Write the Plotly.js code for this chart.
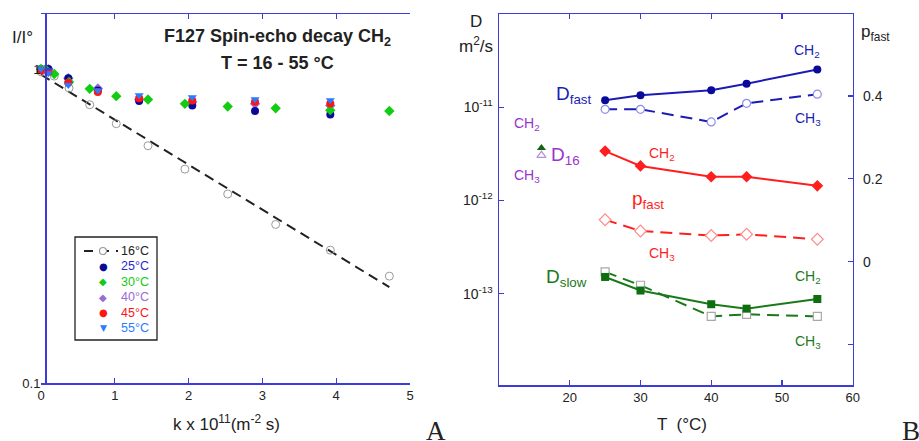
<!DOCTYPE html>
<html>
<head>
<meta charset="utf-8">
<script src="https://cdn.plot.ly/plotly-3.0.1.min.js"></script>
<style>
  html, body { margin: 0; padding: 0; background: #fff; }
  #chart { width: 919px; height: 441px; }
</style>
</head>
<body>
<div id="chart"></div>
<script>
// ---------- Panel A: spin-echo decay, I/I° vs k ----------
const k16 = [0, 0.18, 0.38, 0.66, 1.02, 1.45, 1.95, 2.53, 3.18, 3.92, 4.72];
const I16 = [0.98, 0.95, 0.87, 0.77, 0.67, 0.57, 0.48, 0.40, 0.32, 0.265, 0.219];
const kFit16 = [0, 4.72];
const IFit16 = [0.96, 0.202];

const k30 = [0, 0.06, 0.18, 0.38, 0.66, 1.02, 1.45, 1.95, 2.53, 3.18, 3.92, 4.72];
const I30 = [1.0, 1.0, 0.965, 0.91, 0.865, 0.82, 0.80, 0.775, 0.76, 0.75, 0.74, 0.735];

const kHot = [0, 0.1, 0.37, 0.77, 1.33, 2.05, 2.9, 3.92];
const I25 = [1.0, 1.0, 0.935, 0.855, 0.791, 0.765, 0.736, 0.717];
const I40 = [1.0, 1.0, 0.935, 0.868, 0.80, 0.785, 0.775, 0.765];
const I45 = [0.99, 0.98, 0.905, 0.846, 0.808, 0.794, 0.787, 0.777];
const I55 = [1.0, 0.97, 0.89, 0.855, 0.826, 0.814, 0.802, 0.796];

const kTicks = [0, 1, 2, 3, 4, 5];
const ILabelTicks = [0.1, 1];
const IMinorTicks = [0.2, 0.3, 0.4, 0.5, 0.6, 0.7, 0.8, 0.9, 1];

// legend rows for panel A
const legendLabels = ['16°C', '25°C', '30°C', '40°C', '45°C', '55°C'];
const legendGlyphs = ['', '●', '◆', '◆', '●', '▼'];

// ---------- Panel B: diffusion coefficients and p_fast vs T ----------
const T = [25, 30, 40, 45, 55];
const DfastCH2 = [1.19e-11, 1.34e-11, 1.52e-11, 1.79e-11, 2.54e-11];
const DfastCH3 = [9.5e-12, 9.5e-12, 6.95e-12, 1.10e-11, 1.38e-11];
const pfastCH2 = [0.267, 0.231, 0.205, 0.205, 0.183];
const pfastCH3 = [0.101, 0.074, 0.063, 0.066, 0.054];
const DslowCH2 = [1.51e-13, 1.08e-13, 7.7e-14, 6.9e-14, 8.75e-14];
const DslowCH3 = [1.71e-13, 1.23e-13, 5.7e-14, 6.0e-14, 5.7e-14];
const T16 = [16];
const D16CH2 = [3.66e-12];
const D16CH3 = [3.05e-12];

const TTicks = [20, 30, 40, 50, 60];
const DTicks = [1e-13, 1e-12, 1e-11];
const DTickText = ['10<sup>-13</sup>', '10<sup>-12</sup>', '10<sup>-11</sup>'];
const pTicks = [-0.2, 0, 0.2, 0.4];
const pTickText = ['', '0', '0.2', '0.4'];

// ---------- styling ----------
const W = 919, H = 441;
const FONT = 'Liberation Sans, Arial, Helvetica, sans-serif';
const SERIF = 'Liberation Serif, Times New Roman, serif';
const FRAME = '#3c3cd8';
const INK = '#222222';
const C25 = '#0a0a96', C30 = '#12cc12', C40 = '#9a6bd6', C45 = '#ff1414', C55 = '#2a7bff';
const LEG_TEXT = ['#222222', '#2a2ad0', C30, C40, C45, C55];
const LEG_GLYPH = ['#222222', C25, C30, C40, C45, C55];
const BLUE = '#1c1cb4', PURPLE = '#9933cc', RED = '#ff1e1e', GREEN = '#1a7a1a';

const px = (x) => x / W;
const py = (y) => 1 - y / H;

function note(text, x, y, size, color, extra) {
  return Object.assign({
    text: text, xref: 'paper', yref: 'paper', x: px(x), y: py(y),
    xanchor: 'center', yanchor: 'middle', showarrow: false,
    font: { family: FONT, size: size, color: color }
  }, extra || {});
}

const dot = (sym, color, size, lineColor) => ({
  symbol: sym, size: size, color: color,
  line: { color: lineColor || color, width: lineColor ? 1.2 : 0 }
});

const traces = [
  // Panel A
  { x: kFit16, y: IFit16, xaxis: 'x', yaxis: 'y', mode: 'lines',
    line: { color: INK, width: 2, dash: '10px,6px' }, cliponaxis: false, hoverinfo: 'skip' },
  { x: k16, y: I16, xaxis: 'x', yaxis: 'y', mode: 'markers',
    marker: dot('circle-open', '#9a9a9a', 8), cliponaxis: false },
  { x: kHot, y: I40, xaxis: 'x', yaxis: 'y', mode: 'markers', marker: dot('diamond', C40, 8), cliponaxis: false },
  { x: kHot, y: I25, xaxis: 'x', yaxis: 'y', mode: 'markers', marker: dot('circle', C25, 8), cliponaxis: false },
  { x: k30, y: I30, xaxis: 'x', yaxis: 'y', mode: 'markers', marker: dot('diamond', C30, 8), cliponaxis: false },
  { x: kHot, y: I45, xaxis: 'x', yaxis: 'y', mode: 'markers', marker: dot('circle', C45, 8), cliponaxis: false },
  { x: kHot, y: I55, xaxis: 'x', yaxis: 'y', mode: 'markers', marker: dot('triangle-down', C55, 8), cliponaxis: false },

  // Panel B
  { x: T, y: DfastCH2, xaxis: 'x2', yaxis: 'y2', mode: 'lines+markers',
    line: { color: BLUE, width: 2 }, marker: dot('circle', '#0a0a9a', 8) },
  { x: T, y: DfastCH3, xaxis: 'x2', yaxis: 'y2', mode: 'lines+markers',
    line: { color: BLUE, width: 2, dash: '12px,7px' }, marker: dot('circle', '#ffffff', 8, '#8e8eea') },
  { x: T, y: DslowCH3, xaxis: 'x2', yaxis: 'y2', mode: 'lines+markers',
    line: { color: GREEN, width: 2, dash: '12px,7px' }, marker: dot('square', '#ffffff', 8, '#a8a8a8') },
  { x: T, y: DslowCH2, xaxis: 'x2', yaxis: 'y2', mode: 'lines+markers',
    line: { color: GREEN, width: 2 }, marker: dot('square', '#0f6e0f', 8) },
  { x: T16, y: D16CH3, xaxis: 'x2', yaxis: 'y2', mode: 'markers',
    marker: dot('triangle-up', '#ffffff', 8, '#b58ee0') },
  { x: T16, y: D16CH2, xaxis: 'x2', yaxis: 'y2', mode: 'markers',
    marker: dot('triangle-up', '#146414', 8) },
  { x: T, y: pfastCH2, xaxis: 'x2', yaxis: 'y3', mode: 'lines+markers',
    line: { color: RED, width: 2 }, marker: dot('diamond', RED, 9) },
  { x: T, y: pfastCH3, xaxis: 'x2', yaxis: 'y3', mode: 'lines+markers',
    line: { color: RED, width: 2, dash: '12px,7px' }, marker: dot('diamond', '#ffffff', 9, '#ff8c8c') }
];

const tickFont = { family: FONT, size: 13, color: INK };
const axisBase = {
  showline: true, linecolor: FRAME, linewidth: 1.5,
  ticks: 'inside', ticklen: 5, tickcolor: FRAME, tickwidth: 1.2,
  showgrid: false, zeroline: false, tickfont: tickFont, fixedrange: true
};

// legend box for panel A, laid out row by row
const LEG_BOX = { x0: 75, y0: 237, x1: 157, y1: 340 };
const LEG_ROW0 = 251, LEG_STEP = 15.4, LEG_SYM_X = 103, LEG_TEXT_X = 151;
const legendShapes = [
  { type: 'rect', xref: 'paper', yref: 'paper',
    x0: px(LEG_BOX.x0), x1: px(LEG_BOX.x1), y0: py(LEG_BOX.y1), y1: py(LEG_BOX.y0),
    line: { color: '#222222', width: 1.3 }, fillcolor: '#ffffff', layer: 'above' },
  // 16 °C key: dashed fit line with an open circle
  { type: 'line', xref: 'paper', yref: 'paper',
    x0: px(84), x1: px(118), y0: py(LEG_ROW0), y1: py(LEG_ROW0),
    line: { color: INK, width: 2, dash: '9px,7px' }, layer: 'above' },
  { type: 'circle', xref: 'paper', yref: 'paper',
    x0: px(LEG_SYM_X - 3.5), x1: px(LEG_SYM_X + 3.5), y0: py(LEG_ROW0 + 3.5), y1: py(LEG_ROW0 - 3.5),
    line: { color: '#9a9a9a', width: 1.2 }, fillcolor: '#ffffff', layer: 'above' }
];
const legendNotes = [];
legendLabels.forEach((lab, i) => {
  const y = LEG_ROW0 + i * LEG_STEP;
  legendNotes.push(note(lab, LEG_TEXT_X, y, 12.5, LEG_TEXT[i], { xanchor: 'right' }));
  if (legendGlyphs[i]) {
    const gs = legendGlyphs[i] === '▼' ? 9 : 10;
    legendNotes.push(note(legendGlyphs[i], LEG_SYM_X, y, gs, LEG_GLYPH[i],
      { font: { family: 'DejaVu Sans, sans-serif', size: gs, color: LEG_GLYPH[i] } }));
  }
});

const layout = {
  width: W, height: H,
  margin: { l: 0, r: 0, t: 0, b: 0 },
  paper_bgcolor: '#ffffff', plot_bgcolor: '#ffffff',
  font: { family: FONT, color: INK },
  showlegend: false,
  xaxis: Object.assign({}, axisBase, {
    domain: [px(41), px(410)], range: [0, 5], anchor: 'y',
    tickvals: kTicks, mirror: 'ticks'
  }),
  yaxis: Object.assign({}, axisBase, {
    domain: [py(383), py(14)], type: 'log', range: [-1, 0.1755],
    anchor: 'free', position: px(45),
    tickvals: ILabelTicks, ticktext: ['0.1', '1'], ticklabelstandoff: 2
  }),
  yaxis4: Object.assign({}, axisBase, {
    domain: [py(383), py(14)], type: 'log', range: [-1, 0.1755],
    overlaying: 'y', side: 'right', anchor: 'x',
    tickvals: IMinorTicks, showticklabels: false, ticklen: 4
  }),
  xaxis2: Object.assign({}, axisBase, {
    domain: [px(499), px(852.7)], range: [10, 60], anchor: 'y2',
    tickvals: TTicks, mirror: 'ticks'
  }),
  yaxis2: Object.assign({}, axisBase, {
    domain: [py(385), py(14)], type: 'log', range: [-13.98, -10.0], anchor: 'x2',
    tickvals: DTicks, ticktext: DTickText, tickfont: { family: FONT, size: 14, color: INK },
    ticklabelstandoff: 2
  }),
  yaxis3: Object.assign({}, axisBase, {
    domain: [py(385), py(14)], range: [-0.298, 0.598],
    overlaying: 'y2', side: 'right', anchor: 'x2',
    tickvals: pTicks, ticktext: pTickText, tickfont: { family: FONT, size: 14, color: INK },
    ticklabelstandoff: 6
  }),
  shapes: legendShapes,
  annotations: [
    // panel A texts
    note('I/I°', 22, 37, 17, INK),
    note('<b>F127 Spin-echo decay CH<sub>2</sub></b>', 277, 38, 18, INK),
    note('<b>T = 16 - 55 °C</b>', 277, 63, 18, INK),
    note('k x 10<sup>11</sup>(m<sup>-2</sup> s)', 226, 423, 17, INK),
    note('A', 436, 431, 27, INK, { font: { family: SERIF, size: 27, color: INK } }),
    // panel B texts
    note('D', 476, 22, 17, INK),
    note('m<sup>2</sup>/s', 476, 45, 17, INK),
    note('p<sub>fast</sub>', 875, 33, 17, INK),
    note('T  (°C)', 682, 424, 17, INK),
    note('B', 911, 431, 27, INK, { font: { family: SERIF, size: 27, color: INK } }),
    note('CH<sub>2</sub>', 807, 51, 14, BLUE),
    note('CH<sub>3</sub>', 808, 119, 14, BLUE),
    note('D<sub>fast</sub>', 573, 95, 19, BLUE),
    note('CH<sub>2</sub>', 527, 124, 14, PURPLE),
    note('D<sub>16</sub>', 565, 156, 19, PURPLE),
    note('CH<sub>3</sub>', 527, 176, 14, PURPLE),
    note('CH<sub>2</sub>', 662, 154, 14, RED),
    note('p<sub>fast</sub>', 648, 200, 19, RED),
    note('CH<sub>3</sub>', 662, 254, 14, RED),
    note('D<sub>slow</sub>', 566, 278, 19, GREEN),
    note('CH<sub>2</sub>', 808, 277, 14, GREEN),
    note('CH<sub>3</sub>', 808, 342, 14, GREEN)
  ].concat(legendNotes)
};

Plotly.newPlot('chart', traces, layout, { displayModeBar: false, staticPlot: true });
</script>
</body>
</html>
